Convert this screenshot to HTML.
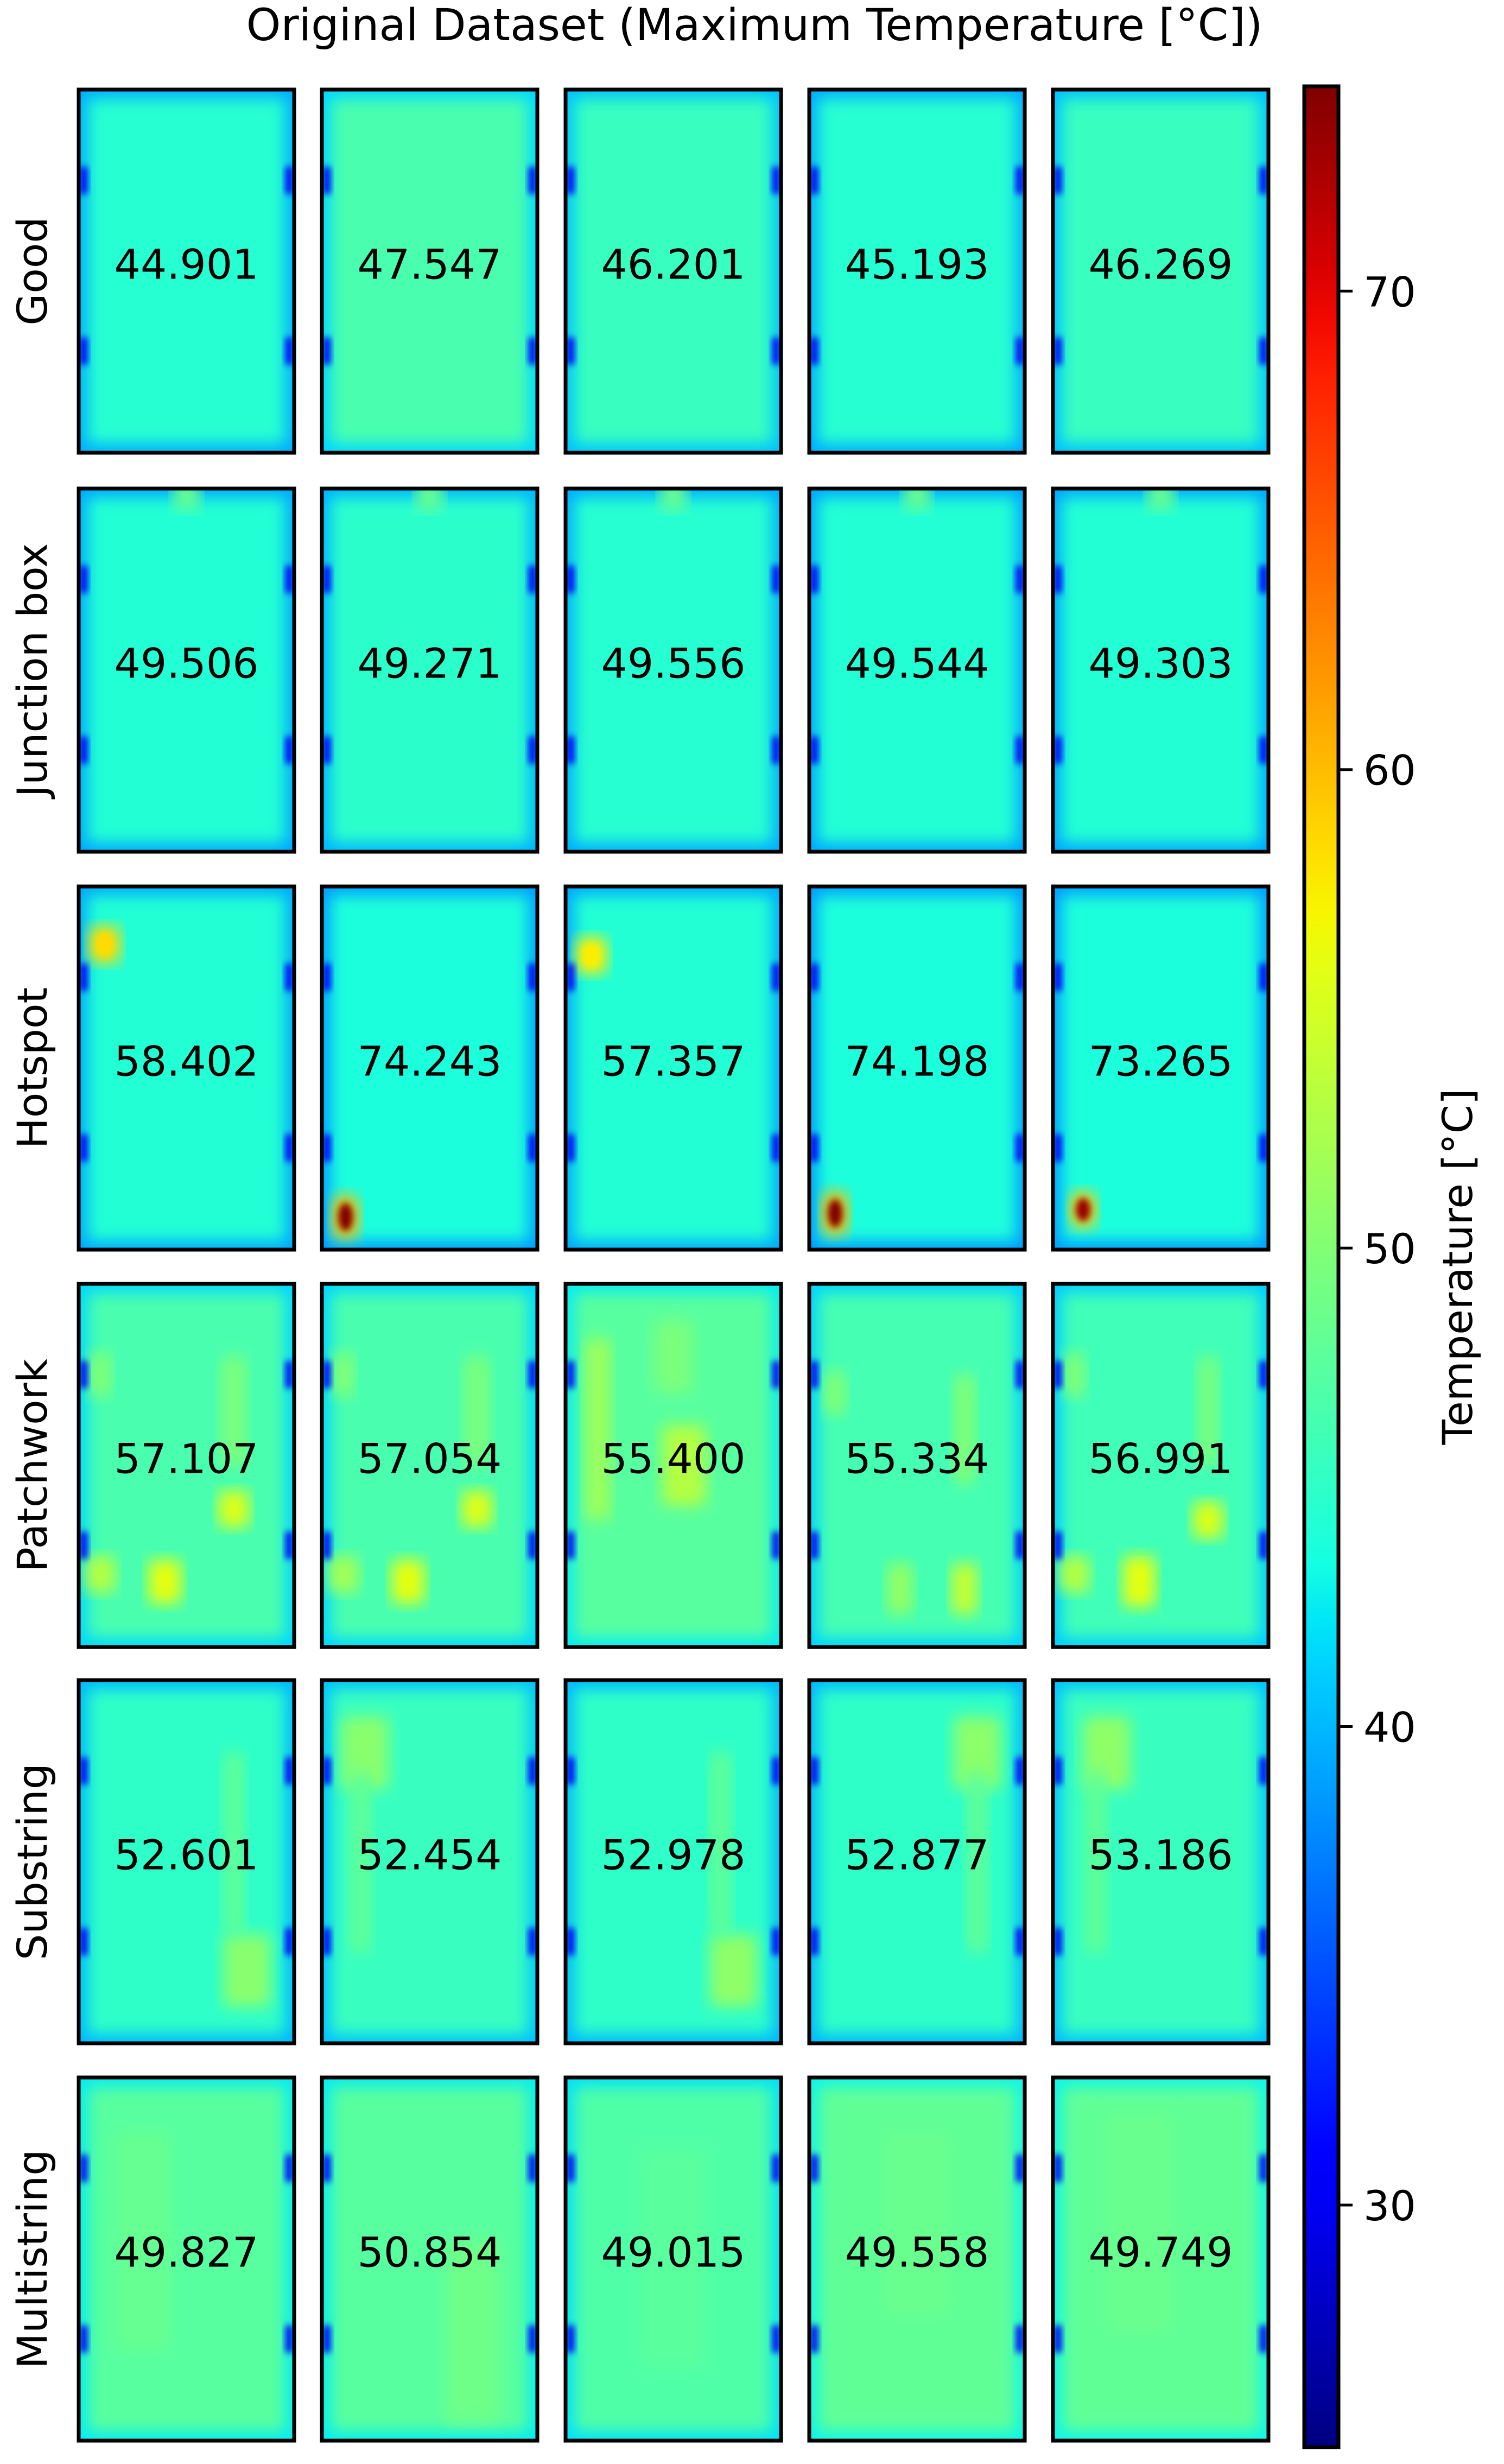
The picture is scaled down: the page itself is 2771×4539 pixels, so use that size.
<!DOCTYPE html>
<html><head><meta charset="utf-8">
<style>
html,body{margin:0;padding:0;background:#fff;}
svg{display:block;}
text{font-family:"DejaVu Sans","Liberation Sans",sans-serif;fill:#000;}
</style></head>
<body>
<svg id="chart" width="2771" height="4539" viewBox="0 0 2771 4539" xmlns="http://www.w3.org/2000/svg">
<defs>
<filter id="soft" x="-20%" y="-20%" width="140%" height="140%"><feGaussianBlur stdDeviation="14"/></filter>
<filter id="soft2" x="-50%" y="-50%" width="200%" height="200%"><feGaussianBlur stdDeviation="6"/></filter>
</defs>
<text x="1390" y="74" font-size="81" text-anchor="middle">Original Dataset (Maximum Temperature [°C])</text>
<g id="panels"></g>
<g id="colorbar"></g>
</svg>
<script>
const rowLabels = ["Good","Junction box","Hotspot","Patchwork","Substring","Multistring"];
const maxValues = [
  [44.901,47.547,46.201,45.193,46.269],
  [49.506,49.271,49.556,49.544,49.303],
  [58.402,74.243,57.357,74.198,73.265],
  [57.107,57.054,55.400,55.334,56.991],
  [52.601,52.454,52.978,52.877,53.186],
  [49.827,50.854,49.015,49.558,49.749]
];
const baseTemps = [
  [44.5,46.5,45.5,44.5,45.5],
  [44.3,44.8,44.5,44.3,44.3],
  [44.3,43.8,44.3,43.8,43.8],
  [46.5,46.5,47.5,46.3,46.0],
  [45.0,45.5,45.0,45.0,45.5],
  [47.5,47.5,47.0,48.0,48.0]
];
// hot features: [panelIndex, fx, fy, fw, fh, temperature]
const features = [
  [5,0.5,0.02,0.12,0.08,48.5],[6,0.5,0.02,0.12,0.08,48.5],[7,0.5,0.02,0.12,0.08,48.5],[8,0.5,0.02,0.12,0.08,48.5],[9,0.5,0.02,0.12,0.08,48.5],
  [10,0.12,0.16,0.14,0.1,58.4],[11,0.11,0.91,0.12,0.12,74.2],[12,0.12,0.19,0.14,0.1,57.4],[13,0.12,0.9,0.12,0.12,74.2],[14,0.14,0.89,0.12,0.1,73.3],
  [15,0.72,0.62,0.14,0.1,55.5],[15,0.4,0.82,0.15,0.12,56],[15,0.1,0.8,0.14,0.1,53],[15,0.72,0.35,0.12,0.3,49.5],[15,0.1,0.25,0.1,0.12,50],
  [16,0.72,0.62,0.14,0.1,55.5],[16,0.4,0.82,0.15,0.12,56],[16,0.1,0.8,0.14,0.1,52],[16,0.72,0.35,0.12,0.3,49.5],[16,0.1,0.25,0.1,0.12,50],
  [17,0.15,0.4,0.12,0.5,51.5],[17,0.55,0.5,0.2,0.22,53],[17,0.5,0.2,0.18,0.2,49.5],
  [18,0.72,0.84,0.12,0.14,54],[18,0.42,0.84,0.12,0.14,51],[18,0.12,0.3,0.1,0.12,50],[18,0.72,0.4,0.1,0.3,50],
  [19,0.72,0.65,0.14,0.1,55.5],[19,0.4,0.82,0.15,0.14,56],[19,0.1,0.8,0.14,0.1,53],[19,0.72,0.35,0.1,0.3,49.5],[19,0.1,0.25,0.1,0.12,50],
  [20,0.78,0.8,0.22,0.2,50.5],[20,0.72,0.45,0.1,0.5,48],
  [21,0.2,0.2,0.22,0.2,50.5],[21,0.18,0.5,0.1,0.5,48],
  [22,0.78,0.8,0.22,0.2,50.8],[22,0.72,0.45,0.1,0.5,48],
  [23,0.78,0.2,0.22,0.2,50.6],[23,0.78,0.5,0.1,0.5,48],
  [24,0.25,0.2,0.22,0.2,50.8],[24,0.2,0.5,0.1,0.5,48],
  [25,0.3,0.45,0.25,0.6,48.3],[26,0.7,0.7,0.25,0.5,48.8],[27,0.5,0.5,0.3,0.6,47.6],[28,0.5,0.4,0.3,0.5,48.5],[29,0.4,0.4,0.3,0.6,48.5]
];
const cbTicks = [30,40,50,60,70];
const vmin = 24.94, vmax = 74.28;

const colLefts=[145,593,1042,1491,1940], panelW=397, panelH=669;
const rowTops=[165,900,1633,2365,3095,3827];
const cbX=2403, cbW=63, cbTop=159, cbBot=4508;
const NS="http://www.w3.org/2000/svg";

function interp(pts,t){for(let i=1;i<pts.length;i++){if(t<=pts[i][0]){const a=pts[i-1],b=pts[i];return a[1]+(b[1]-a[1])*(t-a[0])/(b[0]-a[0]);}}return pts[pts.length-1][1];}
function jet(v){let t=(v-vmin)/(vmax-vmin);t=Math.max(0,Math.min(1,t));
 const r=interp([[0,0],[0.35,0],[0.66,1],[0.89,1],[1,0.5]],t);
 const g=interp([[0,0],[0.125,0],[0.375,1],[0.64,1],[0.91,0],[1,0]],t);
 const b=interp([[0,0.5],[0.11,1],[0.34,1],[0.65,0],[1,0]],t);
 return `rgb(${Math.round(r*255)},${Math.round(g*255)},${Math.round(b*255)})`;}
function yScale(v){return cbBot-(v-vmin)/(vmax-vmin)*(cbBot-cbTop);}
function el(tag,attrs,parent){const e=document.createElementNS(NS,tag);for(const k in attrs)e.setAttribute(k,attrs[k]);parent.appendChild(e);return e;}

const panels=document.getElementById('panels');
rowLabels.forEach((lab,r)=>{
  const cy=rowTops[r]+panelH/2;
  const t=el('text',{x:0,y:0,'font-size':76,'text-anchor':'middle',transform:`translate(86,${cy}) rotate(-90)`},panels);
  
  
  t.textContent=lab;
  for(let c=0;c<5;c++){
    const idx=r*5+c, x=colLefts[c], y=rowTops[r];
    const g=el('g',{},panels);
    
    
    const cid='clip'+idx;
    const cp=el('clipPath',{id:cid},g); el('rect',{x:x,y:y,width:panelW,height:panelH},cp);
    const inner=el('g',{'clip-path':`url(#${cid})`},g);
    el('rect',{x:x,y:y,width:panelW,height:panelH,fill:jet(baseTemps[r][c]-5)},inner);
    el('rect',{x:x+16,y:y+16,width:panelW-32,height:panelH-32,fill:jet(baseTemps[r][c]),filter:'url(#soft)'},inner);
    features.filter(f=>f[0]===idx).forEach(f=>{
      const fw=f[3]*panelW, fh=f[4]*panelH, fx=x+f[1]*panelW-fw/2, fy=y+f[2]*panelH-fh/2;
      const hot=f[5]>65;
      const m=el('rect',{x:fx,y:fy,width:fw,height:fh,rx:hot?fw/2.5:10,fill:jet(hot?f[5]-14:f[5]),filter:'url(#soft)'},inner);
      
      
      if(hot||f[5]>56){
        const core=el('ellipse',{cx:fx+fw/2,cy:fy+fh/2,rx:fw*0.28,ry:fh*0.32,fill:jet(f[5]),filter:'url(#soft2)'},inner);
        
        
      }
    });
    [0.25,0.72].forEach(fy=>{
      el('rect',{x:x+2,y:y+fy*panelH-25,width:14,height:50,fill:jet(30),filter:'url(#soft2)'},inner);
      el('rect',{x:x+panelW-16,y:y+fy*panelH-25,width:14,height:50,fill:jet(30),filter:'url(#soft2)'},inner);
    });
    el('rect',{x:x,y:y,width:panelW,height:panelH,fill:'none',stroke:'#000','stroke-width':7},g);
    const vt=el('text',{x:x+panelW/2,y:y+panelH/2+14,'font-size':76,'text-anchor':'middle'},g);
    
    
    vt.textContent=maxValues[r][c].toFixed(3);
  }
});

const cb=document.getElementById('colorbar');
const defs=document.querySelector('defs');
const lg=el('linearGradient',{id:'jetgrad',x1:0,y1:1,x2:0,y2:0},defs);
for(let i=0;i<=40;i++){const v=vmin+(vmax-vmin)*i/40;el('stop',{offset:(i/40),'stop-color':jet(v)},lg);}
const bar=el('rect',{x:cbX,y:cbTop,width:cbW,height:cbBot-cbTop,fill:'url(#jetgrad)',stroke:'#000','stroke-width':7},cb);


cbTicks.forEach(v=>{
  const yy=yScale(v);
  const tk=el('line',{x1:cbX+cbW,x2:cbX+cbW+26,y1:yy,y2:yy,stroke:'#000','stroke-width':5},cb);
  
  
  const tl=el('text',{x:cbX+cbW+46,y:yy+28,'font-size':76},cb);
  
  
  tl.textContent=v;
});
const ct=el('text',{x:0,y:0,'font-size':76,'text-anchor':'middle',transform:`translate(2712,${(cbTop+cbBot)/2}) rotate(-90)`},cb);


ct.textContent='Temperature [°C]';
</script>
</body></html>
